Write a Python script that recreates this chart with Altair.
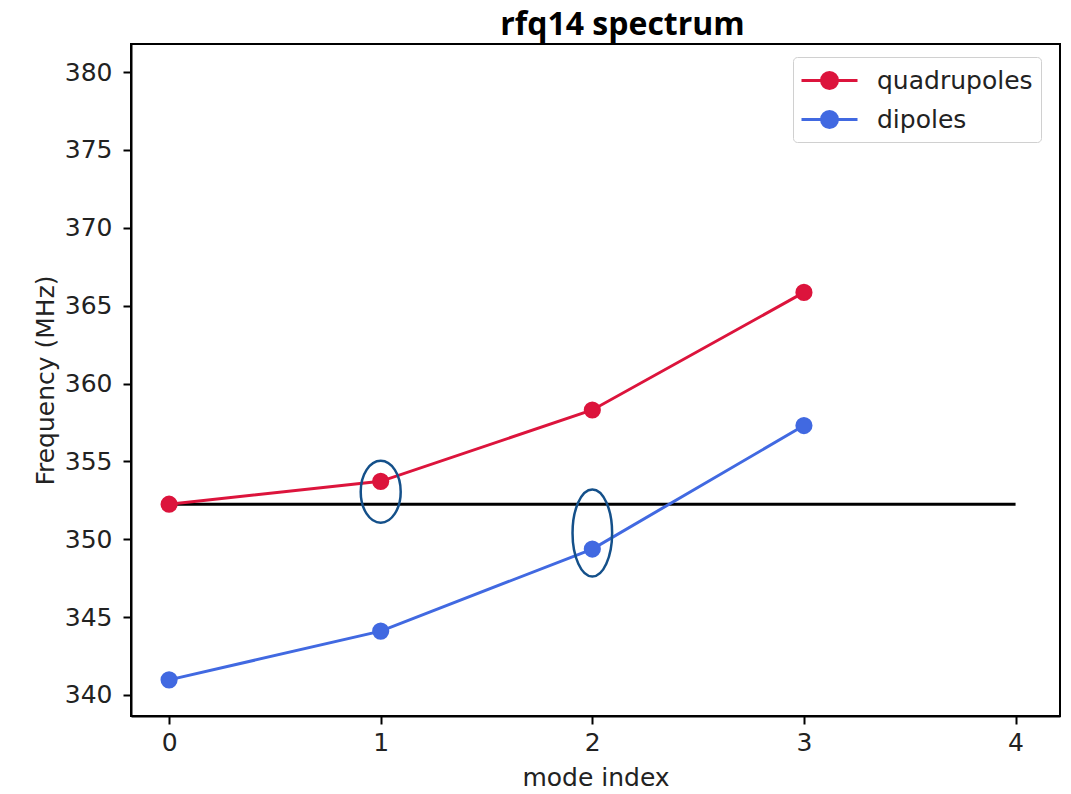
import altair as alt
import pandas as pd

# Mode frequencies of the rfq14 cavity (MHz)
modes = [0, 1, 2, 3]
quadrupoles = [352.25, 353.72, 358.3, 365.85]
dipoles = [340.97, 344.1, 349.37, 357.3]

series_names = ["quadrupoles", "dipoles"]
series_colors = ["#DC143C", "#4169E1"]

# Operating frequency reference line
target_freq = 352.25
target_from = 0
target_to = 4

# Highlighted modes (ellipse centres)
hl_modes = [1, 2]
hl_freqs = [353.05, 350.4]

x_ticks = [0, 1, 2, 3, 4]
y_ticks = [340, 345, 350, 355, 360, 365, 370, 375, 380]

rows = []
for name, vals in zip(series_names, [quadrupoles, dipoles]):
    for m, v in zip(modes, vals):
        rows.append({"mode": m, "freq": v, "series": name})
df = pd.DataFrame(rows)

ref_df = pd.DataFrame({"x": [target_from], "x2": [target_to], "y": [target_freq]})
hl_df = pd.DataFrame({"mode": hl_modes, "freq": hl_freqs})

x_scale = alt.Scale(domain=[-0.18, 4.21], nice=False, zero=False)
y_scale = alt.Scale(domain=[338.65, 381.8], nice=False, zero=False)

x_axis = alt.Axis(values=x_ticks, format="d", title="mode index", grid=False,
                  titlePadding=10, labelPadding=6)
y_axis = alt.Axis(values=y_ticks, title="Frequency (MHz)", grid=False,
                  titlePadding=6, labelPadding=11)

stroke_scale = alt.Scale(domain=series_names, range=series_colors)

# legend glyph: short line with a dot in the middle
legend_path = ("M-2,0L2,0M0.57,0A0.57,0.57,0,1,1,-0.57,0"
               "A0.57,0.57,0,1,1,0.57,0Z")
legend = alt.Legend(
    title=None,
    orient="none",
    legendX=662,
    legendY=13,
    symbolType=legend_path,
    symbolSize=784,
    symbolStrokeWidth=3,
    symbolOffset=13,
    labelFont="DejaVu Sans",
    labelFontSize=25,
    labelColor="#222222",
    labelOffset=32,
    rowPadding=9,
    padding=8,
    strokeColor="#d0d0d0",
    cornerRadius=4,
    fillColor="white",
)

base = alt.Chart(df)

lines = base.mark_line(strokeWidth=3).encode(
    x=alt.X("mode:Q", scale=x_scale, axis=x_axis),
    y=alt.Y("freq:Q", scale=y_scale, axis=y_axis),
    stroke=alt.Stroke("series:N", scale=stroke_scale, legend=legend, sort=series_names),
    detail="series:N",
)

points = base.mark_point(filled=True, size=230, opacity=1).encode(
    x="mode:Q",
    y="freq:Q",
    fill=alt.Fill("series:N", scale=stroke_scale, legend=legend, sort=series_names),
    stroke=alt.Stroke("series:N", scale=stroke_scale, legend=legend, sort=series_names),
)

ref_line = alt.Chart(ref_df).mark_rule(color="black", strokeWidth=3).encode(
    x="x:Q", x2="x2:Q", y="y:Q"
)


def ellipse_path(rx):
    return (f"M{-rx},0A{rx},1,0,1,0,{rx},0A{rx},1,0,1,0,{-rx},0Z")


ring_color = "#14508A"
ring1 = alt.Chart(hl_df.iloc[[0]]).mark_point(
    shape=ellipse_path(0.645), size=3844, filled=False,
    stroke=ring_color, strokeWidth=2.5, opacity=1,
).encode(x="mode:Q", y="freq:Q")

ring2 = alt.Chart(hl_df.iloc[[1]]).mark_point(
    shape=ellipse_path(0.455), size=7569, filled=False,
    stroke=ring_color, strokeWidth=2.5, opacity=1,
).encode(x="mode:Q", y="freq:Q")

chart = alt.layer(ref_line, lines, points, ring1, ring2).properties(
    width=929,
    height=672,
    title=alt.TitleParams(
        "rfq14 spectrum",
        font="Open Sans",
        fontSize=32,
        fontWeight="bold",
        color="black",
        anchor="middle",
        dx=27,
        offset=2,
    ),
    autosize=alt.AutoSizeParams(type="none"),
    padding={"left": 131, "top": 44, "right": 11, "bottom": 78},
    background="white",
).configure_view(
    stroke="black", strokeWidth=2
).configure_axis(
    labelFont="DejaVu Sans",
    labelFontSize=25,
    labelColor="#222222",
    titleFont="DejaVu Sans",
    titleFontSize=25,
    titleFontWeight="normal",
    titleColor="#222222",
    domainColor="black",
    domainWidth=2,
    tickColor="black",
    tickWidth=2,
    tickSize=8,
)

chart.save("out.html", embed_options={"renderer": "svg", "actions": False})
